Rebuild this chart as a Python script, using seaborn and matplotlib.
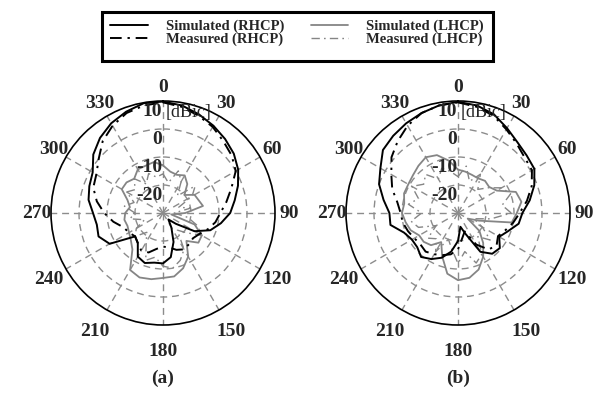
import numpy as np
import pandas as pd
import matplotlib
matplotlib.use("Agg")
import matplotlib.pyplot as plt
from matplotlib.lines import Line2D
from matplotlib.patches import Rectangle
import seaborn as sns

sns.set_style("white")
plt.rcParams["font.family"] = ["Liberation Serif", "DejaVu Serif"]
plt.rcParams["font.weight"] = "bold"

# ---- pattern data (dBic), sampled every 10 degrees, 0..350 ----
angles_deg = list(range(0, 360, 10))

sim_rhcp_a = [9.8, 9.0, 7.5, 6.0, 4.5, 3.0, 1.0, -1.5, -4.0, -6.0, -9.0, -12.0,
              -17.0, -24.0, -27.0, -24.0, -19.0, -14.0, -12.0, -12.0, -11.0, -12.0,
              -16.0, -17.0, -8.0, -5.5, -6.0, -5.0, -3.0, -2.0, -1.0, 2.5,
              5.0, 7.0, 8.5, 9.8]
meas_rhcp_a = [9.5, 8.5, 7.0, 5.5, 3.5, 2.0, 0.0, -4.0, -7.0, -9.5, -11.0, -13.0,
               -15.0, -16.0, -15.5, -15.0, -16.0, -17.5, -18.0, -17.0, -15.0, -14.5,
               -16.0, -17.0, -16.0, -15.0, -12.0, -9.0, -6.0, -3.5, -2.5, 0.0,
               3.5, 6.0, 8.0, 9.0]
sim_lhcp_a = [-13.0, -15.0, -15.5, -14.5, -16.5, -20.0, -17.0, -16.5, -15.5, -22.0,
              -27.0, -18.0, -14.0, -13.5, -17.0, -12.0, -9.0, -7.0, -6.8, -6.0,
              -5.5, -6.5, -13.0, -15.0, -16.0, -16.5, -16.0, -16.5, -18.0, -16.5,
              -13.0, -13.0, -14.0, -12.0, -12.0, -11.5]
meas_lhcp_a = [-16.0, -19.0, -14.0, -17.0, -22.0, -15.0, -18.0, -24.0, -20.0, -26.0,
               -21.0, -17.0, -14.0, -19.0, -22.0, -15.0, -12.0, -10.0, -11.0, -14.0,
               -12.0, -18.0, -21.0, -17.0, -19.0, -23.0, -18.0, -20.0, -16.0, -19.0,
               -15.0, -17.0, -14.0, -18.0, -15.0, -17.0]

sim_rhcp_b = [9.7, 9.0, 7.5, 5.0, 3.0, 2.0, 1.5, -1.0, -4.0, -7.0, -8.0, -11.0,
              -13.0, -10.5, -11.0, -14.0, -22.0, -25.0, -20.0, -16.0, -13.0, -11.0,
              -9.5, -11.0, -11.0, -9.5, -5.5, -5.5, -3.0, 0.0, 2.0, 5.0,
              6.0, 7.0, 8.0, 9.0]
meas_rhcp_b = [9.5, 8.5, 7.0, 4.5, 2.5, 1.0, 0.5, -2.0, -5.0, -8.0, -10.0, -12.0,
               -13.5, -12.0, -13.0, -17.0, -23.0, -21.0, -17.0, -15.0, -14.0, -13.0,
               -12.0, -12.5, -12.0, -11.0, -10.0, -9.5, -8.0, -5.0, -2.5, 1.0,
               3.5, 6.0, 8.0, 9.0]
sim_lhcp_b = [-14.5, -15.0, -15.5, -15.7, -15.0, -15.5, -14.0, -8.0, -7.0, -9.0,
              -10.5, -22.0, -26.0, -20.0, -16.0, -12.0, -8.5, -6.5, -6.0, -8.0,
              -13.5, -18.0, -15.0, -14.0, -14.0, -12.0, -11.0, -10.0, -10.5, -9.5,
              -9.5, -9.0, -8.0, -7.0, -8.0, -11.0]
meas_lhcp_b = [-17.0, -13.0, -18.0, -14.0, -19.0, -16.0, -12.0, -10.0, -14.0, -11.0,
               -18.0, -24.0, -20.0, -15.0, -19.0, -13.0, -11.0, -16.0, -12.0, -17.0,
               -20.0, -14.0, -18.0, -16.0, -21.0, -15.0, -13.0, -17.0, -12.0, -15.0,
               -11.0, -14.0, -12.0, -16.0, -13.0, -15.0]

r_ticks = [-20, -10, 0, 10]
r_tick_labels = ["-20", "-10", "0", "10"]
r_unit = "[dBic]"
theta_ticks = list(range(0, 360, 30))
panel_labels = ["(a)", "(b)"]
legend_labels = ["Simulated (RHCP)", "Measured (RHCP)",
                 "Simulated (LHCP)", "Measured (LHCP)"]

R_MIN, R_MAX = -30, 10
BLACK = "#000000"
GRAY = "#858585"
DASHDOT = (0, (6, 3, 1.2, 3))

styles = {
    "Simulated (RHCP)": dict(color=BLACK, lw=1.4, ls="-"),
    "Measured (RHCP)": dict(color=BLACK, lw=1.4, ls=DASHDOT),
    "Simulated (LHCP)": dict(color=GRAY, lw=1.3, ls="-"),
    "Measured (LHCP)": dict(color=GRAY, lw=1.0, ls=DASHDOT),
}

panels = [
    {"Simulated (RHCP)": sim_rhcp_a, "Measured (RHCP)": meas_rhcp_a,
     "Simulated (LHCP)": sim_lhcp_a, "Measured (LHCP)": meas_lhcp_a},
    {"Simulated (RHCP)": sim_rhcp_b, "Measured (RHCP)": meas_rhcp_b,
     "Simulated (LHCP)": sim_lhcp_b, "Measured (LHCP)": meas_lhcp_b},
]

W, H = 603, 394
fig = plt.figure(figsize=(W / 100, H / 100), dpi=100)

centers = [(163, 213), (458, 213)]
RADIUS = 112
FS = 14


def r_from_px(d):
    return R_MIN + d * (R_MAX - R_MIN) / RADIUS


for idx, (cx, cy) in enumerate(centers):
    ax = fig.add_axes([(cx - RADIUS) / W, (H - cy - RADIUS) / H,
                       2 * RADIUS / W, 2 * RADIUS / H], projection="polar")
    ax.set_theta_zero_location("N")
    ax.set_theta_direction(-1)
    ax.set_rlim(R_MIN, R_MAX)

    # closed curves: repeat the 0-degree sample at 360
    theta = np.deg2rad(angles_deg + [360])
    for name in legend_labels[::-1]:
        vals = panels[idx][name]
        df = pd.DataFrame({"theta": theta, "r": vals + [vals[0]]})
        st = styles[name]
        sns.lineplot(data=df, x="theta", y="r", ax=ax, sort=False, estimator=None,
                     color=st["color"], lw=st["lw"], linestyle=st["ls"], zorder=3)

    ax.set_xlabel("")
    ax.set_ylabel("")
    ax.set_xticks(np.deg2rad(theta_ticks))
    ax.set_xticklabels([])
    ax.set_yticks(r_ticks[:-1])
    ax.set_yticklabels([])
    ax.grid(True, color="#8c8c8c", lw=1.0, ls=(0, (5, 3.5)))
    ax.spines["polar"].set_color("black")
    ax.spines["polar"].set_linewidth(1.2)
    ax.set_facecolor("none")

    # angle labels outside the rim
    for t in theta_ticks:
        d = 126 + 12 * max(0.0, -np.cos(np.deg2rad(t)))
        ax.text(np.deg2rad(t), r_from_px(d), str(t), ha="center", va="center",
                fontsize=FS, fontweight="bold", clip_on=False)

    # radial labels just under each ring, right-aligned on the 0-degree spoke
    for rv, lab in zip(r_ticks, r_tick_labels):
        ax.annotate(lab, xy=(0, rv), xytext=(-0.5, -1.5), textcoords="offset points",
                    ha="right", va="top", fontsize=FS, fontweight="bold",
                    annotation_clip=False, zorder=5)
    ax.annotate(r_unit, xy=(0, r_ticks[-1]), xytext=(2, -2),
                textcoords="offset points", ha="left", va="top",
                fontsize=FS - 1, fontweight="normal", annotation_clip=False,
                zorder=5)

    fig.text(cx / W, 1 - 378 / H, panel_labels[idx], ha="center", va="center",
             fontsize=FS, fontweight="bold")

# legend with a heavy frame
handles = [Line2D([], [], color=styles[n]["color"], lw=styles[n]["lw"],
                  ls=styles[n]["ls"]) for n in legend_labels]
leg = fig.legend(handles, legend_labels, ncol=2, loc="center",
                 bbox_to_anchor=(297 / W, 1 - 33 / H), frameon=False,
                 prop={"family": "Liberation Serif", "weight": "bold", "size": 10.5},
                 handlelength=2.6, handletextpad=1.2, columnspacing=1.8,
                 labelspacing=0.0, borderpad=0.2)
fig.add_artist(Rectangle((102 / W, 1 - 61 / H), (493 - 102) / W, (61 - 12) / H,
                         transform=fig.transFigure, fill=False, ec="black",
                         lw=2.2, zorder=1))

fig.savefig("out.png", dpi=100)
